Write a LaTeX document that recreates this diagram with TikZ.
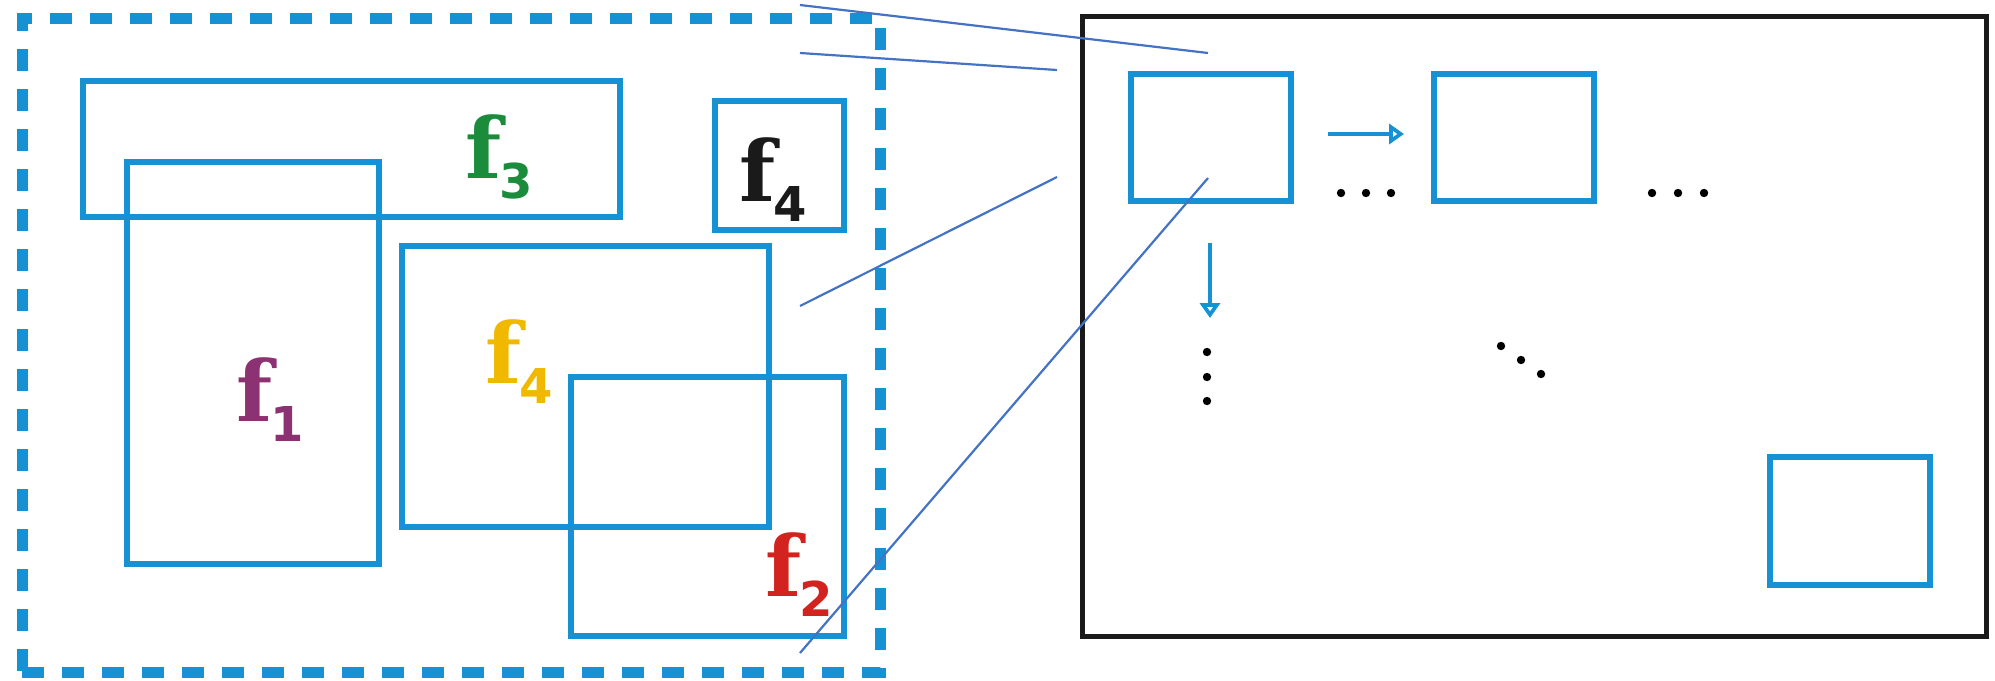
\documentclass[tikz,border=0pt]{standalone}
\usepackage{fontspec}
\usetikzlibrary{arrows.meta}
\newfontfamily\ffont{DejaVu Serif}
\newfontfamily\digfont{DejaVu Sans}
\definecolor{boxblue}{RGB}{22,145,212}
\definecolor{linkblue}{RGB}{68,114,196}
\definecolor{cgreen}{RGB}{26,140,60}
\definecolor{cpurple}{RGB}{140,50,115}
\definecolor{cyellow}{RGB}{240,185,0}
\definecolor{cred}{RGB}{210,35,30}
\definecolor{cblack}{RGB}{26,26,26}
\newcommand\flab[1]{{\ffont\bfseries\fontsize{42}{44}\selectfont f}\kern-1pt\raisebox{-10pt}{\digfont\bfseries\fontsize{24}{25}\selectfont #1}}
\tikzset{
  bbox/.style={draw=boxblue, line width=2.6pt, rectangle, inner sep=0pt},
  region/.style={draw=boxblue, line width=5.5pt, rectangle, inner sep=0pt, dash pattern=on 11pt off 9pt},
  frame/.style={draw=cblack, line width=2.5pt, rectangle, inner sep=0pt},
  lab/.style={inner sep=0pt, anchor=base west},
  link/.style={draw=linkblue, line width=1.1pt},
  arr/.style={draw=boxblue, line width=2.2pt, -{Triangle[open, length=7.5pt, width=10pt]}},
  dot/.style={fill=black}
}
\begin{document}
\begin{tikzpicture}[x=0.5pt,y=-0.5pt]
\useasboundingbox (0,0) rectangle (1995,680);
% left region
\node[region, minimum width=429pt, minimum height=326.75pt] (reg) at (451,345.25) {};
\node[bbox, minimum width=268.5pt, minimum height=68pt] (r3) at (351.5,149) {};
\node[bbox, minimum width=126pt, minimum height=201pt] (r1) at (253,363) {};
\node[bbox, minimum width=183.5pt, minimum height=140.5pt] (r4) at (585.5,386.5) {};
\node[bbox, minimum width=136.5pt, minimum height=129.5pt] (r2) at (707.5,506.5) {};
\node[bbox, minimum width=64.5pt, minimum height=64.5pt] (r4b) at (779.5,165.5) {};
% labels
\node[lab, text=cgreen] (l3) at (465,178) {\flab{3}};
\node[lab, text=cblack] (l4b) at (739,201) {\flab{4}};
\node[lab, text=cyellow] (l4) at (485,383) {\flab{4}};
\node[lab, text=cpurple] (l1) at (236,421) {\flab{1}};
\node[lab, text=cred] (l2) at (765,596) {\flab{2}};
% right frame
\node[frame, minimum width=452pt, minimum height=310pt] (fr) at (1534,326) {};
\node[bbox, minimum width=80pt, minimum height=63.5pt] (ba) at (1211,137.5) {};
\node[bbox, minimum width=80pt, minimum height=63.5pt] (bb) at (1514,137.5) {};
\node[bbox, minimum width=80pt, minimum height=64pt] (bc) at (1850,521) {};
% arrows
\coordinate (h1) at (1328,134);
\coordinate (h2) at (1404,134);
\coordinate (v1) at (1210,243);
\coordinate (v2) at (1210,318);
\draw[arr] (h1) -- (h2);
\draw[arr] (v1) -- (v2);
% dots
\foreach \x in {1341,1366,1391} \fill[dot] (\x,193) circle (2.1pt);
\foreach \x in {1652,1678,1704} \fill[dot] (\x,193) circle (2.1pt);
\foreach \y in {352,377,401} \fill[dot] (1207,\y) circle (2.1pt);
\fill[dot] (1501,346) circle (2.1pt);
\fill[dot] (1521,360) circle (2.1pt);
\fill[dot] (1541,374) circle (2.1pt);
% connectors
\coordinate (a1) at (800,5);
\coordinate (b1) at (1208,53);
\coordinate (a2) at (800,53);
\coordinate (b2) at (1057,70);
\coordinate (a3) at (800,306);
\coordinate (b3) at (1057,177);
\coordinate (a4) at (800,653);
\coordinate (b4) at (1208,178);
\draw[link] (a1) -- (b1);
\draw[link] (a2) -- (b2);
\draw[link] (a3) -- (b3);
\draw[link] (a4) -- (b4);
\end{tikzpicture}
\end{document}
